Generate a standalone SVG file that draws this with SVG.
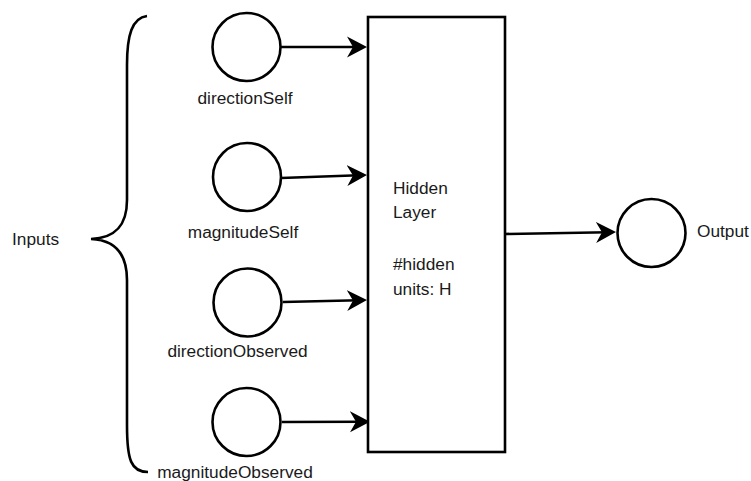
<svg xmlns="http://www.w3.org/2000/svg" width="751" height="481" viewBox="0 0 751 481">
<defs>
<style>
.n{fill:#fff;stroke:#000;stroke-width:2.6}
.e{fill:none;stroke:#000;stroke-width:2.6}
text{font-family:"Liberation Sans",Arial,Helvetica,sans-serif;font-size:17.3px;fill:#1a1a1a}
.c{text-anchor:middle}
</style>
<marker id="arr" markerUnits="userSpaceOnUse" viewBox="-12 -11 20 22" refX="0" refY="0" markerWidth="20" markerHeight="22" orient="auto">
<path d="M8,0 L-12,-10.5 L-6,0 L-12,10.5 Z" fill="#000"/>
</marker>
</defs>
<rect width="751" height="481" fill="#fff"/>
<g id="connectors">
<path class="e" d="M281,47 L359,47" marker-end="url(#arr)"/>
<path class="e" d="M281,178 L359,175.2" marker-end="url(#arr)"/>
<path class="e" d="M283,302 L359,300.3" marker-end="url(#arr)"/>
<path class="e" d="M282,422 L362,421.8" marker-end="url(#arr)"/>
<path class="e" d="M505,234 L608,232.2" marker-end="url(#arr)"/>
</g>
<g id="brace">
<path class="e" d="M147,16 C132,18 127,35 127,65 L127,200 C127,226 115,238 91,239 C115,240 127,253 127,280 L127,425 C127,460 131,472 148,472"/>
<text x="12" y="245">Inputs</text>
</g>
<g id="directionSelf">
<circle class="n" cx="246.5" cy="47" r="34"/>
<text class="c" x="245" y="104">directionSelf</text>
</g>
<g id="magnitudeSelf">
<circle class="n" cx="247" cy="177" r="34"/>
<text class="c" x="243" y="238">magnitudeSelf</text>
</g>
<g id="directionObserved">
<circle class="n" cx="247.5" cy="302.5" r="34"/>
<text class="c" x="237.5" y="357">directionObserved</text>
</g>
<g id="magnitudeObserved">
<circle class="n" cx="246.5" cy="422" r="34"/>
<text class="c" x="235" y="478">magnitudeObserved</text>
</g>
<g id="hidden">
<rect class="n" x="368" y="17" width="137" height="435"/>
<text x="393" y="194">Hidden</text>
<text x="393" y="218">Layer</text>
<text x="393" y="270">#hidden</text>
<text x="393" y="295">units: H</text>
</g>
<g id="output">
<circle class="n" cx="651.5" cy="233" r="34"/>
<text x="697" y="237">Output</text>
</g>
</svg>
